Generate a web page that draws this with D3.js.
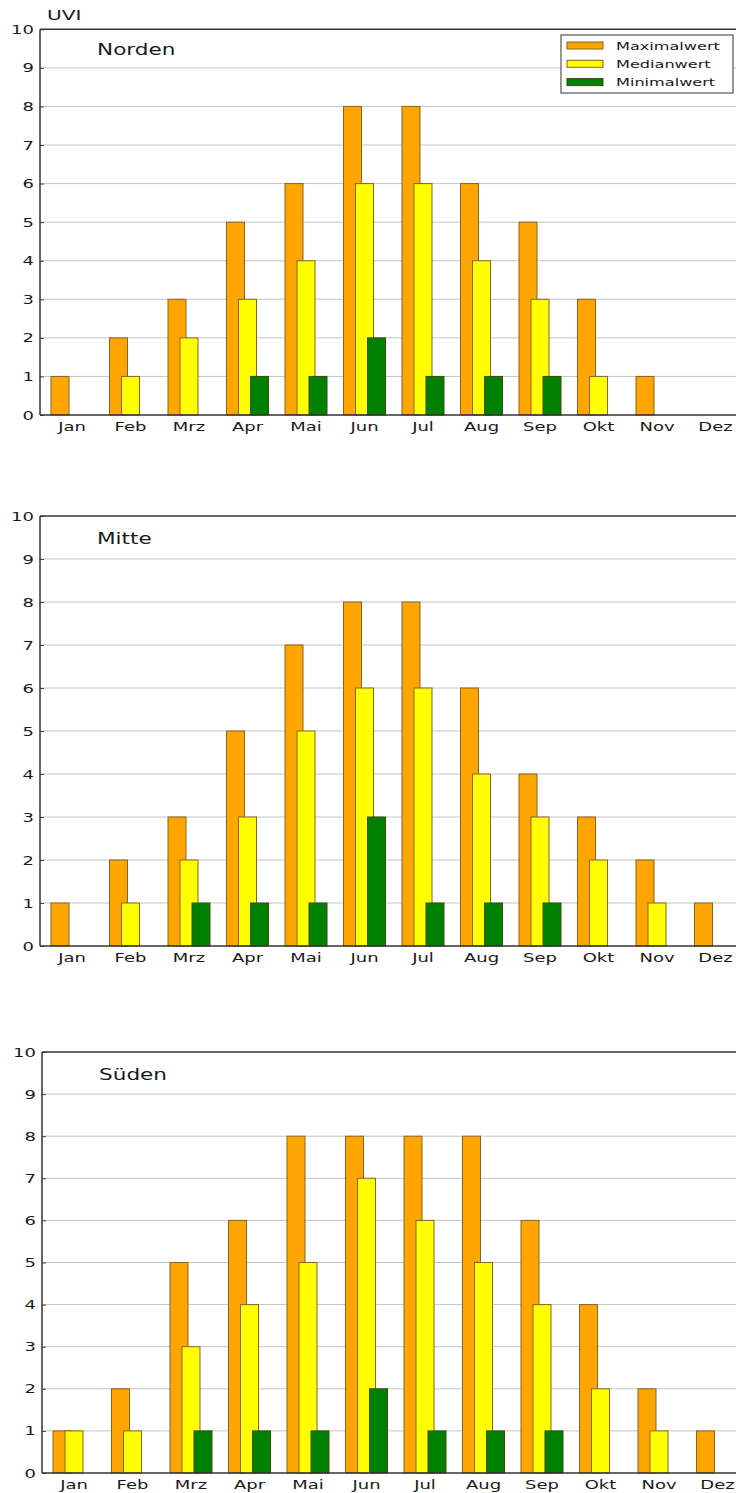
<!DOCTYPE html>
<html><head><meta charset="utf-8">
<script src="https://cdn.jsdelivr.net/npm/d3@7"></script>
<style>html,body{margin:0;padding:0;background:#fff;}svg{display:block;font-family:"DejaVu Sans",sans-serif;}</style>
</head><body>
<script>
const months = ["Jan","Feb","Mrz","Apr","Mai","Jun","Jul","Aug","Sep","Okt","Nov","Dez"];
const seriesNames = ["Maximalwert","Medianwert","Minimalwert"];
const seriesColors = ["#ffa500","#ffff00","#008000"];
const yTicks = [0,1,2,3,4,5,6,7,8,9,10];
const regions = ["Norden","Mitte","Süden"];
const nordenMax = [1,2,3,5,6,8,8,6,5,3,1,0];
const nordenMed = [0,1,2,3,4,6,6,4,3,1,0,0];
const nordenMin = [0,0,0,1,1,2,1,1,1,0,0,0];
const mitteMax  = [1,2,3,5,7,8,8,6,4,3,2,1];
const mitteMed  = [0,1,2,3,5,6,6,4,3,2,1,0];
const mitteMin  = [0,0,1,1,1,3,1,1,1,0,0,0];
const suedenMax = [1,2,5,6,8,8,8,8,6,4,2,1];
const suedenMed = [1,1,3,4,5,7,6,5,4,2,1,0];
const suedenMin = [0,0,1,1,1,2,1,1,1,0,0,0];
const panelData = [
  [nordenMax, nordenMed, nordenMin],
  [mitteMax, mitteMed, mitteMin],
  [suedenMax, suedenMed, suedenMin]
];

const W = 736, H = 1493, SX = 1.44;
const layout = [
  {left:40, top:29.3, bottom:415},
  {left:40, top:516, bottom:946},
  {left:42, top:1052, bottom:1473}
];
const svg = d3.select("body").append("svg").attr("width",W).attr("height",H);

function stext(g, x, y, txt, size, anchor){
  return g.append("text").attr("transform",`translate(${x},${y}) scale(${SX},1)`)
    .attr("text-anchor",anchor||"start").attr("font-size",size).attr("fill","#1a1a1a").text(txt);
}

layout.forEach((L, pi) => {
  const g = svg.append("g");
  const bandW = 58.5;
  const x = d3.scaleBand().domain(months).range([L.left, L.left + bandW*months.length]).padding(0);
  const y = d3.scaleLinear().domain([0,10]).range([L.bottom, L.top]);
  const barW = 18, offs = [11, 23, 35];
  // grid
  g.selectAll("line.grid").data(yTicks.slice(1,-1)).join("line")
    .attr("x1", L.left).attr("x2", W+20).attr("y1", d=>y(d)).attr("y2", d=>y(d))
    .attr("stroke","#c4c4c4").attr("stroke-width",1);
  // bars
  panelData[pi].forEach((vals, si) => {
    g.append("g").selectAll("rect").data(months.map((m,i)=>({m, v: vals[i]})).filter(d=>d.v>0)).join("rect")
      .attr("x", d => x(d.m) + offs[si]).attr("width", barW)
      .attr("y", d => y(d.v)).attr("height", d => y(0) - y(d.v))
      .attr("fill", seriesColors[si]).attr("stroke", si===2 ? "#3d4a10" : "#8a6420").attr("stroke-width",1);
  });
  // axes
  const yAxis = d3.axisLeft(y).tickValues(yTicks).tickSize(-4).tickPadding(0).tickFormat(d3.format("d"));
  const ya = g.append("g").attr("transform",`translate(${L.left},0)`).call(yAxis);
  ya.select(".domain").remove();
  ya.selectAll(".tick line").attr("stroke","#444");
  ya.selectAll(".tick text").remove();
  yTicks.forEach(t => stext(g, L.left-6, y(t)+4.5, String(t), 12.5, "end"));
  const xAxis = d3.axisBottom(x).tickSize(0).tickFormat("");
  const xa = g.append("g").attr("transform",`translate(${-bandW/2+32},${L.bottom})`).call(xAxis);
  xa.select(".domain").remove();
  months.forEach(m => stext(g, x(m)+32, L.bottom+15.5, m, 12.5, "middle"));
  // frame
  g.append("line").attr("x1",L.left).attr("x2",W+20).attr("y1",L.top).attr("y2",L.top).attr("stroke","#333").attr("stroke-width",1.5);
  g.append("line").attr("x1",L.left).attr("x2",W+20).attr("y1",L.bottom).attr("y2",L.bottom).attr("stroke","#333").attr("stroke-width",1.5);
  g.append("line").attr("x1",L.left).attr("x2",L.left).attr("y1",L.top).attr("y2",L.bottom).attr("stroke","#333").attr("stroke-width",1.5);
  // region title
  stext(g, L.left+57, L.top + 0.66*(y(9)-y(10)), regions[pi], 15, "start");
});

// UVI label
stext(svg, 47, 19.5, "UVI", 14, "start");

// legend
const lg = svg.append("g");
lg.append("rect").attr("x",561).attr("y",35).attr("width",172).attr("height",58).attr("fill","#fff").attr("stroke","#333").attr("stroke-width",1);
seriesNames.forEach((n,i) => {
  const cy = 45.5 + i*18.3;
  lg.append("rect").attr("x",567).attr("y",cy-3.5).attr("width",36).attr("height",7)
    .attr("fill",seriesColors[i]).attr("stroke", i===2 ? "#3d4a10" : "#8a6420").attr("stroke-width",1);
  stext(lg, 616, cy+4, n, 11.2, "start");
});
</script>
</body></html>
